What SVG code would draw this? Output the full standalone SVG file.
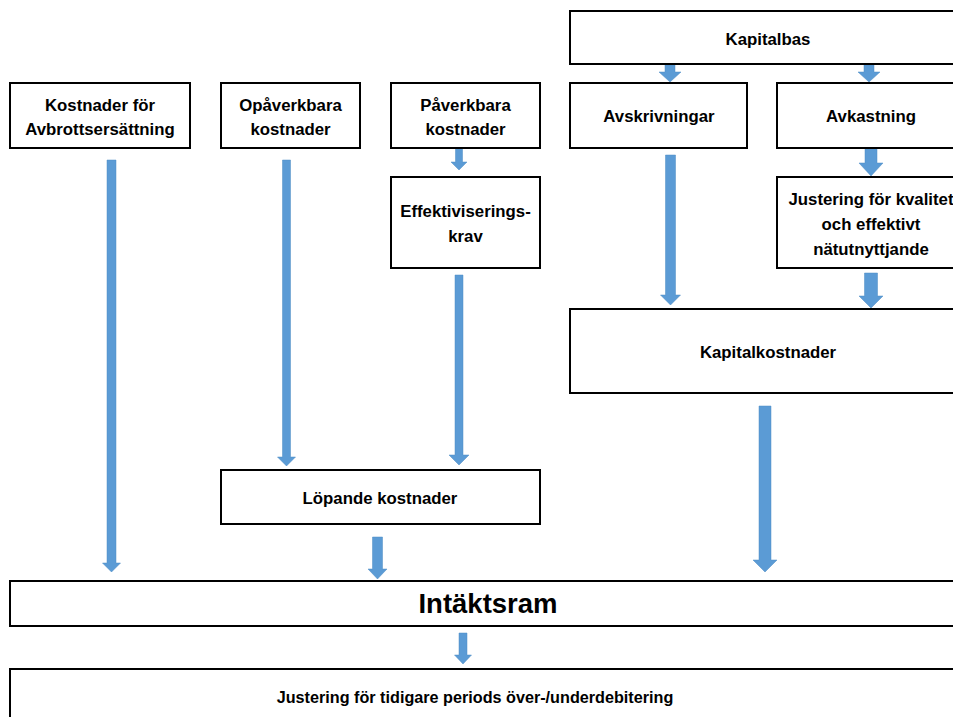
<svg xmlns="http://www.w3.org/2000/svg" width="953" height="717" viewBox="0 0 953 717">
<style>
.box{fill:#fff;stroke:#000;stroke-width:2}
.t{font-family:"Liberation Sans",Arial,sans-serif;font-weight:bold;font-size:16.8px;fill:#000;text-anchor:middle}
.big{font-size:27.5px}
.sm{font-size:16.2px}
.arr{fill:#5B9BD5;stroke:#4F8CC4;stroke-width:0.5}
</style>
<rect width="953" height="717" fill="#fff"/>
<g id="connectors">
<polygon class="arr" points="107,160 116,160 116,563 120.5,563 111.5,572 102.5,563 107,563"/>
<polygon class="arr" points="282.5,160 290.5,160 290.5,457 295.5,457 286.5,466 277.5,457 282.5,457"/>
<polygon class="arr" points="455.5,148 462.5,148 462.5,162 467,162 459,170 451,162 455.5,162"/>
<polygon class="arr" points="455,275 463,275 463,455 469,455 459,465 449,455 455,455"/>
<polygon class="arr" points="665,65 675,65 675,72 681,72 670,82 659,72 665,72"/>
<polygon class="arr" points="864,65 874,65 874,72 880,72 869,82 858,72 864,72"/>
<polygon class="arr" points="865,149 877,149 877,163 883,163 871,176 859,163 865,163"/>
<polygon class="arr" points="665.5,155 675.5,155 675.5,295 680.5,295 670.5,305 660.5,295 665.5,295"/>
<polygon class="arr" points="864.5,273 877.5,273 877.5,296 883,296 871,308 859,296 864.5,296"/>
<polygon class="arr" points="759,406 771,406 771,560 777,560 765,572 753,560 759,560"/>
<polygon class="arr" points="372.5,537 382.5,537 382.5,569 387,569 377.5,579 368,569 372.5,569"/>
<polygon class="arr" points="459,633 467,633 467,655 471.5,655 463,664 454.5,655 459,655"/>
</g>
<g id="avbrott">
<rect class="box" x="10" y="83" width="180" height="65"/>
<text class="t" x="100" y="111">Kostnader för</text>
<text class="t" x="100" y="135">Avbrottsersättning</text>
</g>
<g id="opaverkbara">
<rect class="box" x="221" y="83" width="139" height="65"/>
<text class="t" x="290.5" y="111">Opåverkbara</text>
<text class="t" x="290.5" y="135">kostnader</text>
</g>
<g id="paverkbara">
<rect class="box" x="391" y="83" width="149" height="65"/>
<text class="t" x="465.5" y="111">Påverkbara</text>
<text class="t" x="465.5" y="135">kostnader</text>
</g>
<g id="effektivisering">
<rect class="box" x="391" y="177" width="149" height="91"/>
<text class="t" x="465.5" y="217">Effektiviserings-</text>
<text class="t" x="465.5" y="242">krav</text>
</g>
<g id="kapitalbas">
<rect class="box" x="570" y="11" width="400" height="53"/>
<text class="t" x="768" y="45">Kapitalbas</text>
</g>
<g id="avskrivningar">
<rect class="box" x="570" y="83" width="177" height="65"/>
<text class="t" x="659" y="122">Avskrivningar</text>
</g>
<g id="avkastning">
<rect class="box" x="777" y="83" width="200" height="65"/>
<text class="t" x="871" y="122">Avkastning</text>
</g>
<g id="justering-kvalitet">
<rect class="box" x="777" y="177" width="200" height="91"/>
<text class="t" x="871" y="205">Justering för kvalitet</text>
<text class="t" x="871" y="230">och effektivt</text>
<text class="t" x="871" y="255">nätutnyttjande</text>
</g>
<g id="kapitalkostnader">
<rect class="box" x="570" y="309" width="400" height="84"/>
<text class="t" x="768" y="358">Kapitalkostnader</text>
</g>
<g id="lopande">
<rect class="box" x="221" y="470" width="319" height="54"/>
<text class="t" x="380" y="504">Löpande kostnader</text>
</g>
<g id="intaktsram">
<rect class="box" x="10" y="581" width="960" height="45"/>
<text class="t big" x="488" y="613">Intäktsram</text>
</g>
<g id="justering-period">
<rect class="box" x="10" y="669" width="960" height="60"/>
<text class="t sm" x="475" y="703">Justering för tidigare periods över-/underdebitering</text>
</g>
</svg>
